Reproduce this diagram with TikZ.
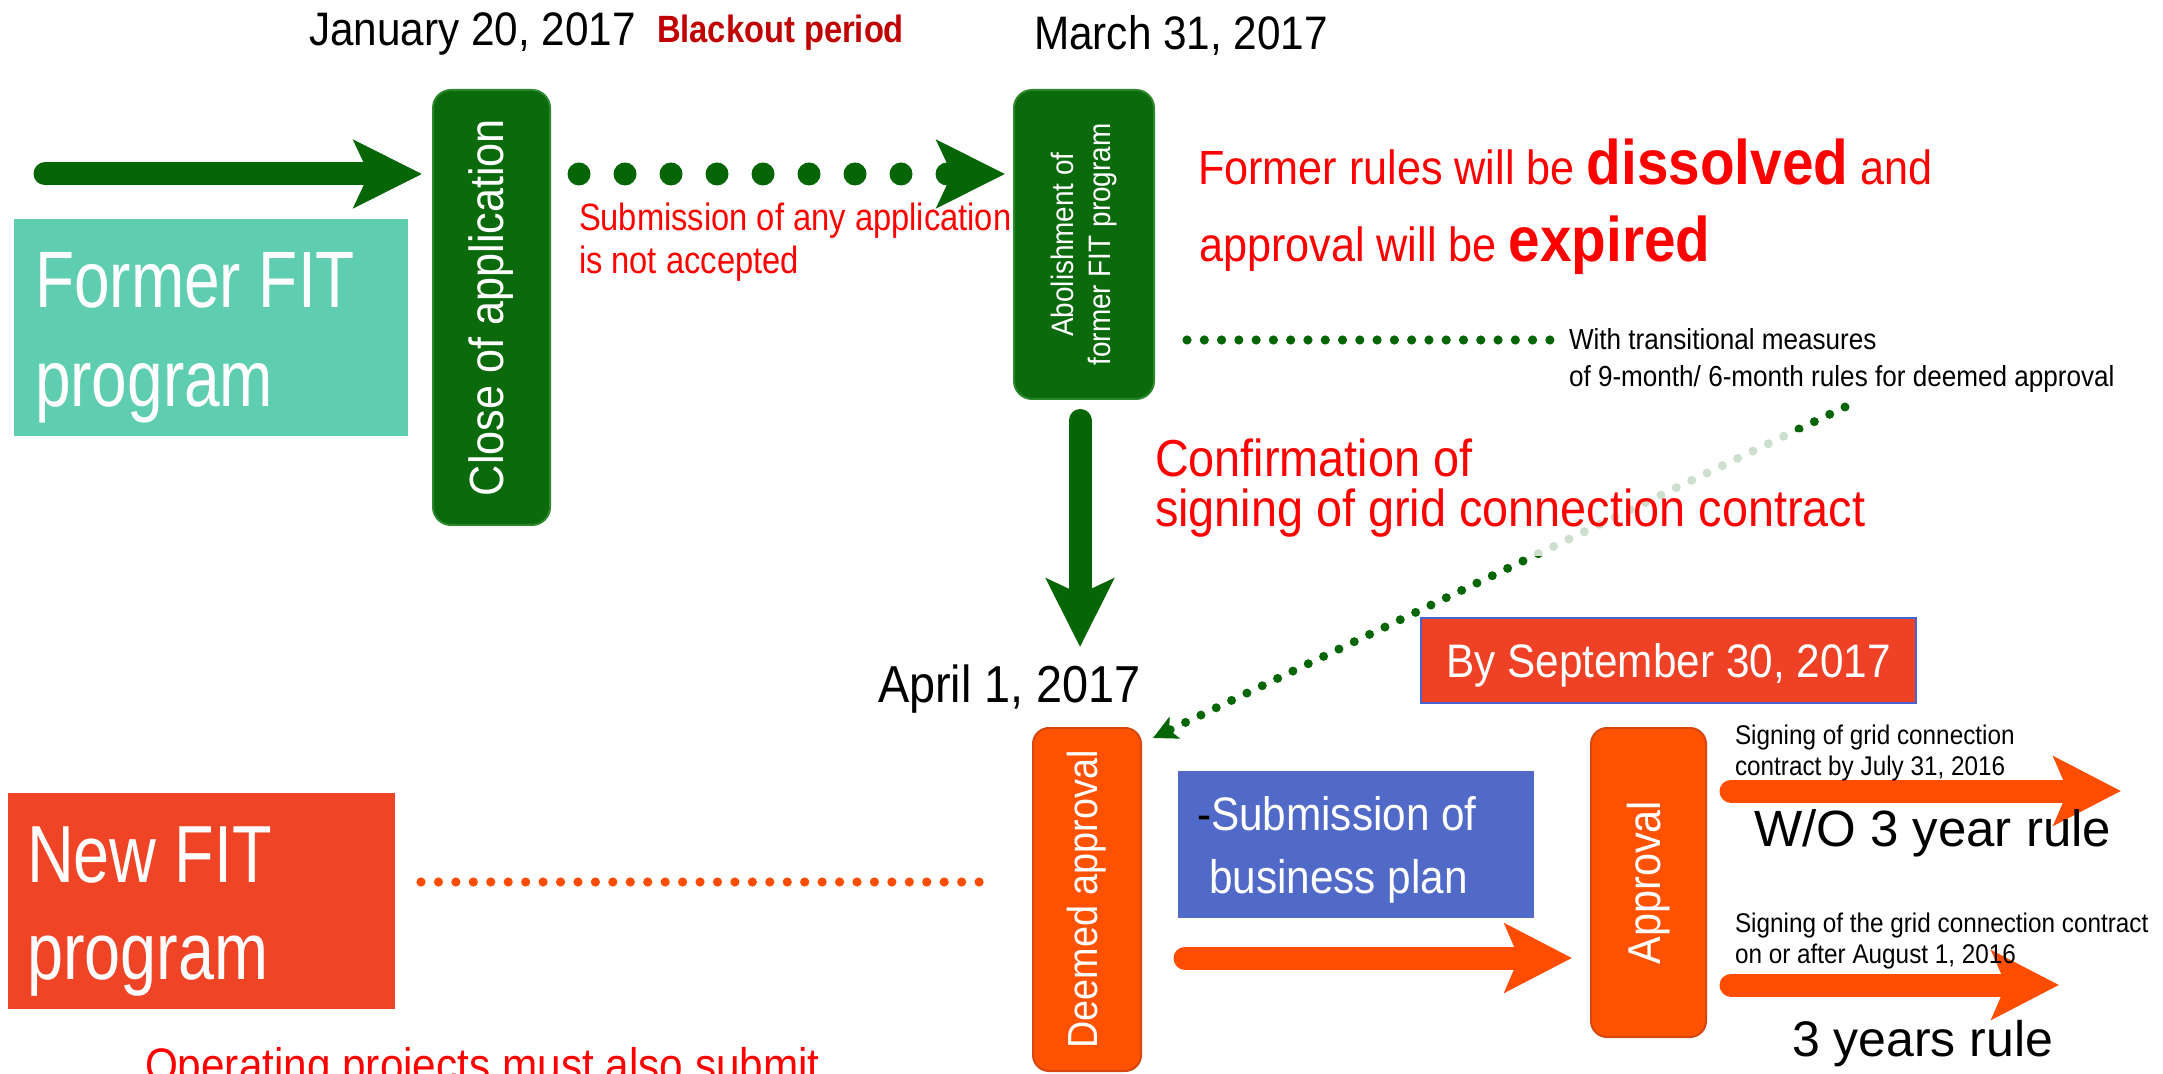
\documentclass[tikz,border=0pt]{standalone}
\usepackage{fontspec}
\setmainfont{Liberation Sans}
\newfontfamily\fA{Liberation Sans}[FakeStretch=0.9]
\newfontfamily\fB{Liberation Sans}[FakeStretch=0.86]
\newfontfamily\fC{Liberation Sans}[FakeStretch=0.8]
\newcommand\setsz[1]{\fontsize{#1}{#1}\selectfont}
\usetikzlibrary{arrows.meta}
\definecolor{gdark}{RGB}{6,102,6}
\definecolor{gboxc}{RGB}{11,106,11}
\definecolor{gedge}{RGB}{45,135,45}
\definecolor{orng}{RGB}{255,77,0}
\definecolor{oboxc}{RGB}{255,82,0}
\definecolor{oedge}{RGB}{215,70,15}
\definecolor{cTeal}{RGB}{94,205,176}
\definecolor{cRedbox}{RGB}{240,68,38}
\definecolor{cSep}{RGB}{239,65,38}
\definecolor{cBlue}{RGB}{81,106,200}
\definecolor{cBlueEdge}{RGB}{70,100,210}
\definecolor{cDarkRed}{RGB}{192,0,0}
\definecolor{cRed}{RGB}{255,0,0}
\begin{document}
\begin{tikzpicture}[x=0.5pt,y=-0.5pt,
  garrow/.style={draw=gdark, line width=11.5pt, line cap=round, -{Stealth[length=34pt,width=33.5pt,inset=7.5pt]}},
  gdotarrow/.style={draw=gdark, line width=11.5pt, line cap=round, dash pattern=on 0pt off 23pt, -{Stealth[length=34pt,width=33.5pt,inset=7.5pt]}},
  oarrow/.style={draw=orng, line width=11.5pt, line cap=round, -{Stealth[length=33.5pt,width=34pt,inset=7pt]}},
  sdots/.style={line width=4.6pt, line cap=round},
  ddots/.style={draw=gdark, line width=4.5pt, line cap=round, dash pattern=on 0pt off 8.5pt, -{Stealth[length=12pt,width=12pt,inset=3pt]}},
  gbar/.style={rounded corners=9pt, fill=gboxc, draw=gedge, line width=1pt, text=white, rotate=90, inner sep=0pt},
  obar/.style={rounded corners=8pt, fill=oboxc, draw=oedge, line width=1pt, text=white, rotate=90, inner sep=0pt},
  plainbox/.style={inner sep=0pt, anchor=north west},
  lbl/.style={anchor=base west, inner sep=0pt, outer sep=0pt}]
\useasboundingbox (0,0) rectangle (2163,1074);
\clip (0,0) rectangle (2163,1074);

% text partly hidden by the abolishment box
\node[lbl, text=cRed, font=\fB\setsz{19pt}] (subm1) at (579,231) {Submission of any application};
\node[lbl, text=cRed, font=\fB\setsz{19pt}] (subm2) at (579,274) {is not accepted};

% boxes
\node[plainbox, fill=cTeal, minimum width=197pt, minimum height=108.5pt] (formerbox) at (14,219) {};
\node[plainbox, fill=cRedbox, minimum width=193.5pt, minimum height=108pt] (newbox) at (8,793) {};
\node[gbar, minimum width=217.5pt, minimum height=58.5pt, font=\fA\setsz{24pt}] (close) at (491.5,307.5) {Close of application};
\node[gbar, minimum width=154.5pt, minimum height=70pt, align=center, font=\fA\fontsize{15.5pt}{18.5pt}\selectfont] (abol) at (1084,244.5) {Abolishment of\\former FIT program};
\node[obar, minimum width=171.5pt, minimum height=54pt, font=\fA\setsz{21pt}] (deemed) at (1087,899.5) {Deemed approval};
\node[obar, minimum width=154.5pt, minimum height=57.5pt, font=\fA\setsz{23pt}] (appr) at (1648.5,882.5) {Approval};
\node[fill=cSep, draw=cBlueEdge, line width=1pt, minimum width=247.5pt, minimum height=42.5pt, inner sep=0pt, text=white, font=\fA\setsz{23.5pt}, text height=16.8pt, text depth=0pt] (sept) at (1668.5,660.5) {By September 30, 2017};
\node[plainbox, fill=cBlue, minimum width=178pt, minimum height=73.5pt] (plan) at (1178,771) {};

% connectors
\coordinate (a1s) at (45,174);
\draw[garrow, shorten >=5pt] (a1s) -- (a1s -| close.north);
\coordinate (a2s) at (579,174);
\draw[gdotarrow, shorten >=4pt] (a2s) -- (a2s -| abol.north);
\coordinate (vtip) at (1080,647);
\draw[garrow, shorten <=10.25pt] (abol.west -| vtip) -- (vtip);
\coordinate (gd1) at (1187,340);
\coordinate (gd2) at (1551,340);
\draw[sdots, draw=gdark, dash pattern=on 0pt off 8.64pt] (gd1) -- (gd2);
\coordinate (dgs) at (1845,407);
\draw[ddots] (dgs) -- ([xshift=5.5pt,yshift=-5.5pt]deemed.south east);
\coordinate (od1) at (421,882);
\coordinate (od2) at (980,882);
\draw[sdots, draw=orng, dash pattern=on 0pt off 8.72pt] (od1) -- (od2);
\coordinate (o1s) at (1185,958);
\draw[oarrow, shorten >=9pt] (o1s) -- (o1s -| appr.north);
\coordinate (o2s) at (1731,791);
\coordinate (o2e) at (2121,791);
\draw[oarrow] (o2s) -- (o2e);
\coordinate (o3s) at (1731,985);
\coordinate (o3e) at (2059,985);
\draw[oarrow] (o3s) -- (o3e);

% translucent backing of the confirmation text
\fill[white, fill opacity=0.8] (1150,432) rectangle (1880,556);

% texts
\node[lbl, text=white, font=\fC\setsz{40pt}] (former1) at (35,308) {Former FIT};
\node[lbl, text=white, font=\fC\setsz{40pt}] (former2) at (35,407) {program};
\node[lbl, text=white, font=\fC\setsz{40.5pt}] (new1) at (27,882) {New FIT};
\node[lbl, text=white, font=\fC\setsz{40.5pt}] (new2) at (27,979) {program};
\node[lbl, font=\fA\setsz{23.5pt}] (jan) at (309,46) {January 20, 2017};
\node[lbl, text=cDarkRed, font=\fB\bfseries\setsz{19pt}] (blackout) at (657,43) {Blackout period};
\node[lbl, font=\fA\setsz{23.5pt}] (mar) at (1034,50) {March 31, 2017};
\node[lbl, text=cRed, font=\fA\setsz{24pt}] (rules1) at (1198,185) {Former rules will be {\setsz{31.5pt}\bfseries dissolved} and};
\node[lbl, text=cRed, font=\fA\setsz{24pt}] (rules2) at (1199,262) {approval will be {\setsz{31.5pt}\bfseries expired}};
\node[lbl, font=\fA\setsz{14.5pt}] (trans1) at (1569,350) {With transitional measures};
\node[lbl, font=\fA\setsz{14.5pt}] (trans2) at (1569,387) {of 9-month/ 6-month rules for deemed approval};
\node[lbl, text=cRed, font=\fA\setsz{26pt}] (conf1) at (1155,477) {Confirmation of};
\node[lbl, text=cRed, font=\fA\setsz{26pt}] (conf2) at (1155,527) {signing of grid connection contract};
\node[lbl, font=\fA\setsz{26pt}] (apr) at (878,702) {April 1, 2017};
\node[lbl, text=white, font=\fA\setsz{23.5pt}] (plan1) at (1197,830) {\textcolor{black}{-}Submission of};
\node[lbl, text=white, font=\fA\setsz{23.5pt}] (plan2) at (1209,893) {business plan};
\node[lbl, font=\fA\setsz{13.5pt}] (sg1) at (1735,744) {Signing of grid connection};
\node[lbl, font=\fA\setsz{13.5pt}] (sg2) at (1735,775) {contract by July 31, 2016};
\node[lbl, font=\setsz{25.5pt}] (wo) at (1754,846) {W/O 3 year rule};
\node[lbl, font=\fA\setsz{13.5pt}] (sg3) at (1735,932) {Signing of the grid connection contract};
\node[lbl, font=\fA\setsz{13.5pt}] (sg4) at (1735,963) {on or after August 1, 2016};
\node[lbl, font=\setsz{25pt}] (three) at (1792,1056) {3 years rule};
\node[lbl, text=cRed, font=\fA\setsz{23.5pt}] (oper) at (145,1081) {Operating projects must also submit};
\end{tikzpicture}
\end{document}
